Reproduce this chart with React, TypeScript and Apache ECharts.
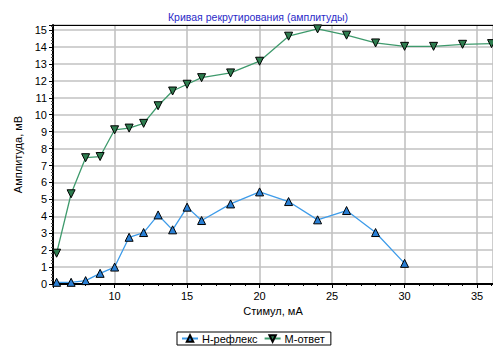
import React, { useEffect, useRef } from "react";
import * as echarts from "echarts";

const hX = [6, 7, 8, 9, 10, 11, 12, 13, 14, 15, 16, 18, 20, 22, 24, 26, 28, 30];
const hY = [0.1, 0.1, 0.2, 0.63, 1.0, 2.76, 3.04, 4.08, 3.2, 4.54, 3.75, 4.73, 5.44, 4.87, 3.79, 4.34, 3.04, 1.22];
const mX = [6, 7, 8, 9, 10, 11, 12, 13, 14, 15, 16, 18, 20, 22, 24, 26, 28, 30, 32, 34, 36];
const mY = [1.82, 5.33, 7.46, 7.53, 9.11, 9.21, 9.49, 10.53, 11.4, 11.8, 12.19, 12.47, 13.16, 14.64, 15.07, 14.7, 14.24, 14.04, 14.04, 14.16, 14.2];

const FONT = "Liberation Sans, Arial, sans-serif";

export default function App() {
  const ref = useRef<HTMLDivElement>(null);
  useEffect(() => {
    if (!ref.current) return;
    const chart = echarts.init(ref.current, null, { renderer: "svg" });
    const axisLabel = { fontFamily: FONT, fontSize: 11, color: "#000" };
    chart.setOption({
      animation: false,
      backgroundColor: "#fff",
      title: {
        text: "Кривая рекрутирования (амплитуды)",
        left: 163,
        top: 6,
        textStyle: { fontFamily: FONT, fontSize: 10.5, fontWeight: "normal", color: "#2b2bc8" },
      },
      grid: { left: 53, top: 25, right: 0, bottom: 64 },
      legend: {
        left: 177,
        top: 332,
        orient: "horizontal",
        padding: [1, 6, 1, 4],
        itemGap: 6,
        itemWidth: 16,
        itemHeight: 8,
        borderColor: "#000",
        borderWidth: 1,
        borderRadius: 0,
        backgroundColor: "#fff",
        textStyle: { fontFamily: FONT, fontSize: 11, color: "#000", padding: [0, 0, 0, -1] },
        data: ["Н-рефлекс", "М-ответ"],
      },
      xAxis: [
        {
          type: "value",
          min: 5.75,
          max: 36.1,
          splitNumber: 6,
          name: "Стимул, мА",
          nameLocation: "middle",
          nameGap: 20,
          nameTextStyle: { fontFamily: FONT, fontSize: 11, color: "#000" },
          axisLine: { show: true, onZero: false, lineStyle: { color: "#000", width: 2 } },
          axisTick: { show: true, length: 4, lineStyle: { color: "#000" } },
          minorTick: { show: true, splitNumber: 5, length: 2, lineStyle: { color: "#000" } },
          axisLabel: { ...axisLabel, margin: 6, showMinLabel: false, showMaxLabel: false },
          splitLine: { show: true, lineStyle: { color: "#c2c2c2", width: 1.6 } },
        },
        {
          type: "value",
          position: "top",
          min: 5.75,
          max: 36.1,
          axisLine: { show: true, onZero: false, lineStyle: { color: "#000", width: 1 } },
          axisTick: { show: false },
          axisLabel: { show: false },
          splitLine: { show: false },
        },
      ],
      yAxis: {
        type: "value",
        min: 0,
        max: 15.3,
        interval: 1,
        name: "Амплитуда, мВ",
        nameLocation: "middle",
        nameGap: 27,
        nameTextStyle: { fontFamily: FONT, fontSize: 11, color: "#000" },
        axisLine: { show: true, lineStyle: { color: "#000", width: 2 } },
        axisTick: { show: true, length: 4, lineStyle: { color: "#000" } },
        minorTick: { show: true, splitNumber: 5, length: 2, lineStyle: { color: "#555" } },
        axisLabel: { ...axisLabel, margin: 6, showMaxLabel: false },
        splitLine: { show: true, lineStyle: { color: "#c2c2c2", width: 1.6 } },
      },
      series: [
        {
          name: "Н-рефлекс",
          type: "line",
          data: hX.map((x, i) => [x, hY[i]]),
          symbol: "triangle",
          symbolSize: 8,
          lineStyle: { color: "#3d9be9", width: 1.3 },
          itemStyle: { color: "#2a7fd4", borderColor: "#000", borderWidth: 1 },
          z: 3,
        },
        {
          name: "М-ответ",
          type: "line",
          data: mX.map((x, i) => [x, mY[i]]),
          symbol: "triangle",
          symbolRotate: 180,
          symbolSize: 8,
          lineStyle: { color: "#3e9a6c", width: 1.3 },
          itemStyle: { color: "#2e7d4f", borderColor: "#000", borderWidth: 1 },
          z: 3,
        },
      ],
    });
    return () => chart.dispose();
  }, []);
  return <div ref={ref} style={{ width: 493, height: 348, position: "absolute", left: 0, top: 0 }} />;
}
